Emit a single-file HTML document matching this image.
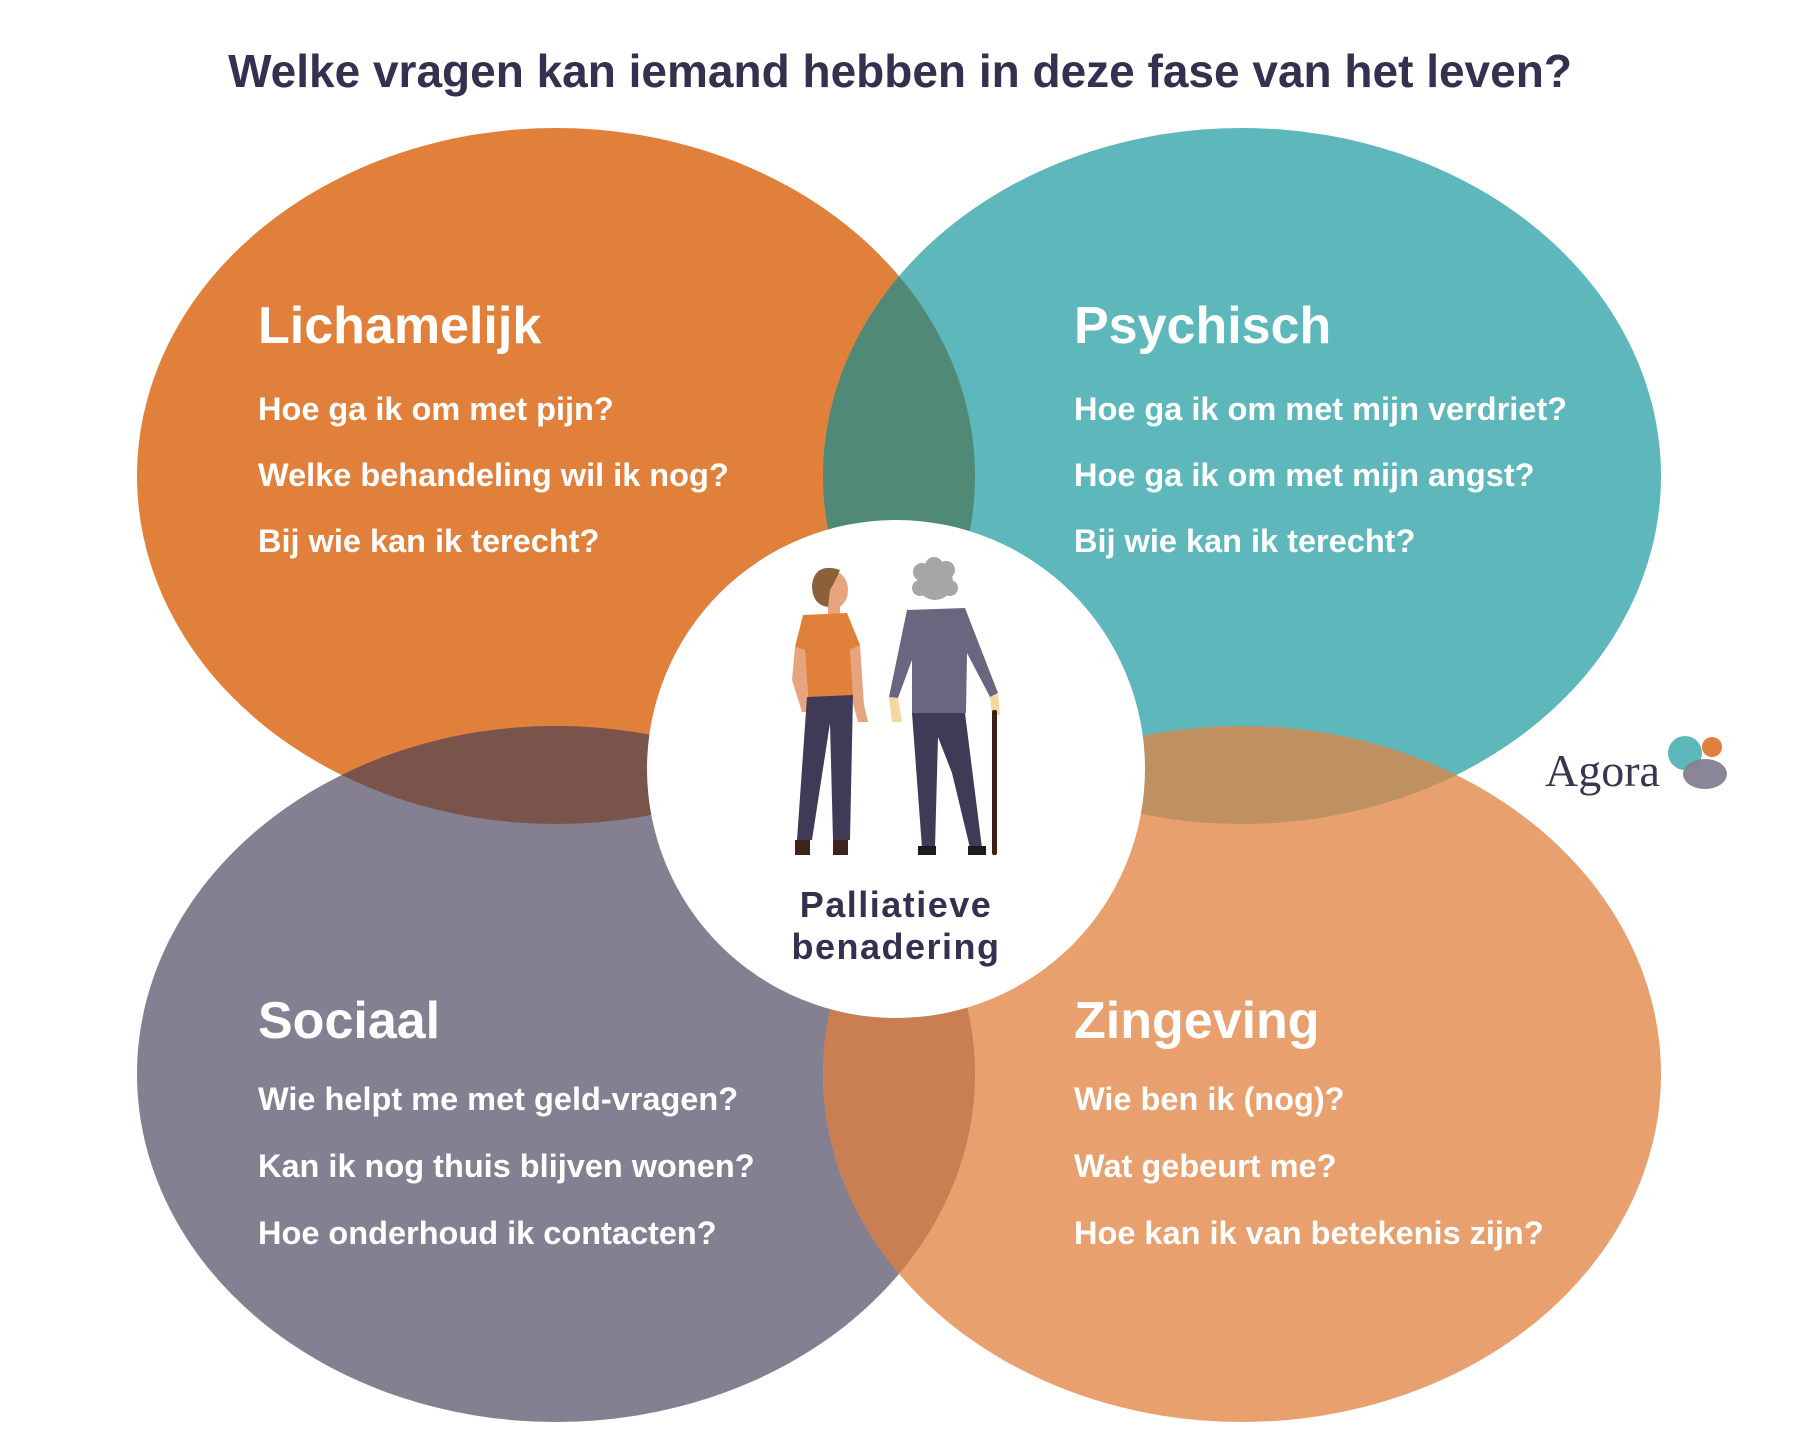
<!DOCTYPE html>
<html><head><meta charset="utf-8"><style>
html,body{margin:0;padding:0;background:#fff;}
svg{display:block;}
</style></head><body>
<svg width="1800" height="1435" viewBox="0 0 1800 1435" xmlns="http://www.w3.org/2000/svg" font-family="Liberation Sans, sans-serif">
<defs>
<clipPath id="cO"><ellipse cx="556" cy="476" rx="419" ry="348"/></clipPath>
<clipPath id="cT"><ellipse cx="1242" cy="476" rx="419" ry="348"/></clipPath>
<clipPath id="cP"><ellipse cx="556" cy="1074" rx="419" ry="348"/></clipPath>
</defs>
<rect width="1800" height="1435" fill="#fff"/>
<text x="900" y="87" text-anchor="middle" font-size="46" font-weight="bold" fill="#35304F">Welke vragen kan iemand hebben in deze fase van het leven?</text>

<ellipse cx="556" cy="476" rx="419" ry="348" fill="#E0803B"/>
<ellipse cx="1242" cy="476" rx="419" ry="348" fill="#5DB7BB"/>
<ellipse cx="556" cy="1074" rx="419" ry="348" fill="#847F91"/>
<ellipse cx="1242" cy="1074" rx="419" ry="348" fill="#E8A06E"/>
<ellipse cx="1242" cy="476" rx="419" ry="348" fill="#508A77" clip-path="url(#cO)"/>
<ellipse cx="556" cy="1074" rx="419" ry="348" fill="#7A534B" clip-path="url(#cO)"/>
<ellipse cx="1242" cy="1074" rx="419" ry="348" fill="#BF9060" clip-path="url(#cT)"/>
<ellipse cx="1242" cy="1074" rx="419" ry="348" fill="#C97F51" clip-path="url(#cP)"/>

<circle cx="896" cy="769" r="249" fill="#fff"/>

<g fill="#fff" font-weight="bold">
<text x="258" y="343" font-size="52">Lichamelijk</text>
<text x="258" y="420" font-size="32.5">Hoe ga ik om met pijn?</text>
<text x="258" y="486" font-size="32.5">Welke behandeling wil ik nog?</text>
<text x="258" y="552" font-size="32.5">Bij wie kan ik terecht?</text>

<text x="1074" y="343" font-size="52">Psychisch</text>
<text x="1074" y="420" font-size="32.5">Hoe ga ik om met mijn verdriet?</text>
<text x="1074" y="486" font-size="32.5">Hoe ga ik om met mijn angst?</text>
<text x="1074" y="552" font-size="32.5">Bij wie kan ik terecht?</text>

<text x="258" y="1038" font-size="52">Sociaal</text>
<text x="258" y="1110" font-size="32.5">Wie helpt me met geld-vragen?</text>
<text x="258" y="1177" font-size="32.5">Kan ik nog thuis blijven wonen?</text>
<text x="258" y="1244" font-size="32.5">Hoe onderhoud ik contacten?</text>

<text x="1074" y="1038" font-size="52">Zingeving</text>
<text x="1074" y="1110" font-size="32.5">Wie ben ik (nog)?</text>
<text x="1074" y="1177" font-size="32.5">Wat gebeurt me?</text>
<text x="1074" y="1244" font-size="32.5">Hoe kan ik van betekenis zijn?</text>
</g>

<!-- woman -->
<polygon points="795,647 805,650 808,700 812,712 802,712 792,680" fill="#E6A57F"/>
<polygon points="850,650 860,645 864,705 868,722 858,722 852,700" fill="#E6A57F"/>
<ellipse cx="835" cy="590" rx="13" ry="18" fill="#E6A57F"/>
<rect x="828" y="600" width="12" height="16" fill="#E6A57F"/>
<path d="M840,570 Q815,562 812,585 Q812,605 828,607 L830,590 Q836,580 840,570Z" fill="#8B613A"/>
<polygon points="803,615 847,613 860,645 850,650 853,697 808,698 805,650 795,647" fill="#E0803B"/>
<polygon points="807,697 853,695 850,840 833,840 830,723 812,840 797,840" fill="#403A56"/>
<rect x="795" y="840" width="15" height="15" fill="#3E2418"/>
<rect x="833" y="840" width="15" height="15" fill="#3E2418"/>
<!-- man -->
<polygon points="889,697 898,698 902,722 892,722" fill="#F5D7A0"/>
<polygon points="990,697 998,693 1000,715 992,715" fill="#F5D7A0"/>
<g fill="#A6A6A6">
<circle cx="935" cy="582" r="18"/>
<circle cx="922" cy="572" r="9"/><circle cx="946" cy="570" r="9"/>
<circle cx="920" cy="588" r="8"/><circle cx="950" cy="588" r="8"/>
<circle cx="934" cy="566" r="9"/>
</g>
<polygon points="907,610 965,608 998,693 990,697 967,653 966,713 912,715 912,660 898,698 889,697" fill="#6A6680"/>
<polygon points="912,713 965,713 982,848 970,848 952,773 938,737 935,848 922,848" fill="#403A56"/>
<rect x="918" y="846" width="18" height="9" fill="#1E1A22"/>
<rect x="968" y="846" width="18" height="9" fill="#1E1A22"/>
<rect x="992" y="710" width="5" height="145" rx="2" fill="#3A2218"/>

<text x="896" y="917" text-anchor="middle" font-size="36" font-weight="bold" letter-spacing="1.5" fill="#35304F">Palliatieve</text>
<text x="896" y="959" text-anchor="middle" font-size="36" font-weight="bold" letter-spacing="1.5" fill="#35304F">benadering</text>

<!-- Agora logo -->
<text x="1545" y="786" font-family="Liberation Serif, serif" font-size="46" fill="#3B3452">Agora</text>
<circle cx="1685" cy="753" r="17" fill="#5DB7BB"/>
<ellipse cx="1705" cy="774" rx="22" ry="15" fill="#847F91" opacity="0.95"/>
<circle cx="1712" cy="747" r="10" fill="#E0803B"/>
</svg>
</body></html>
